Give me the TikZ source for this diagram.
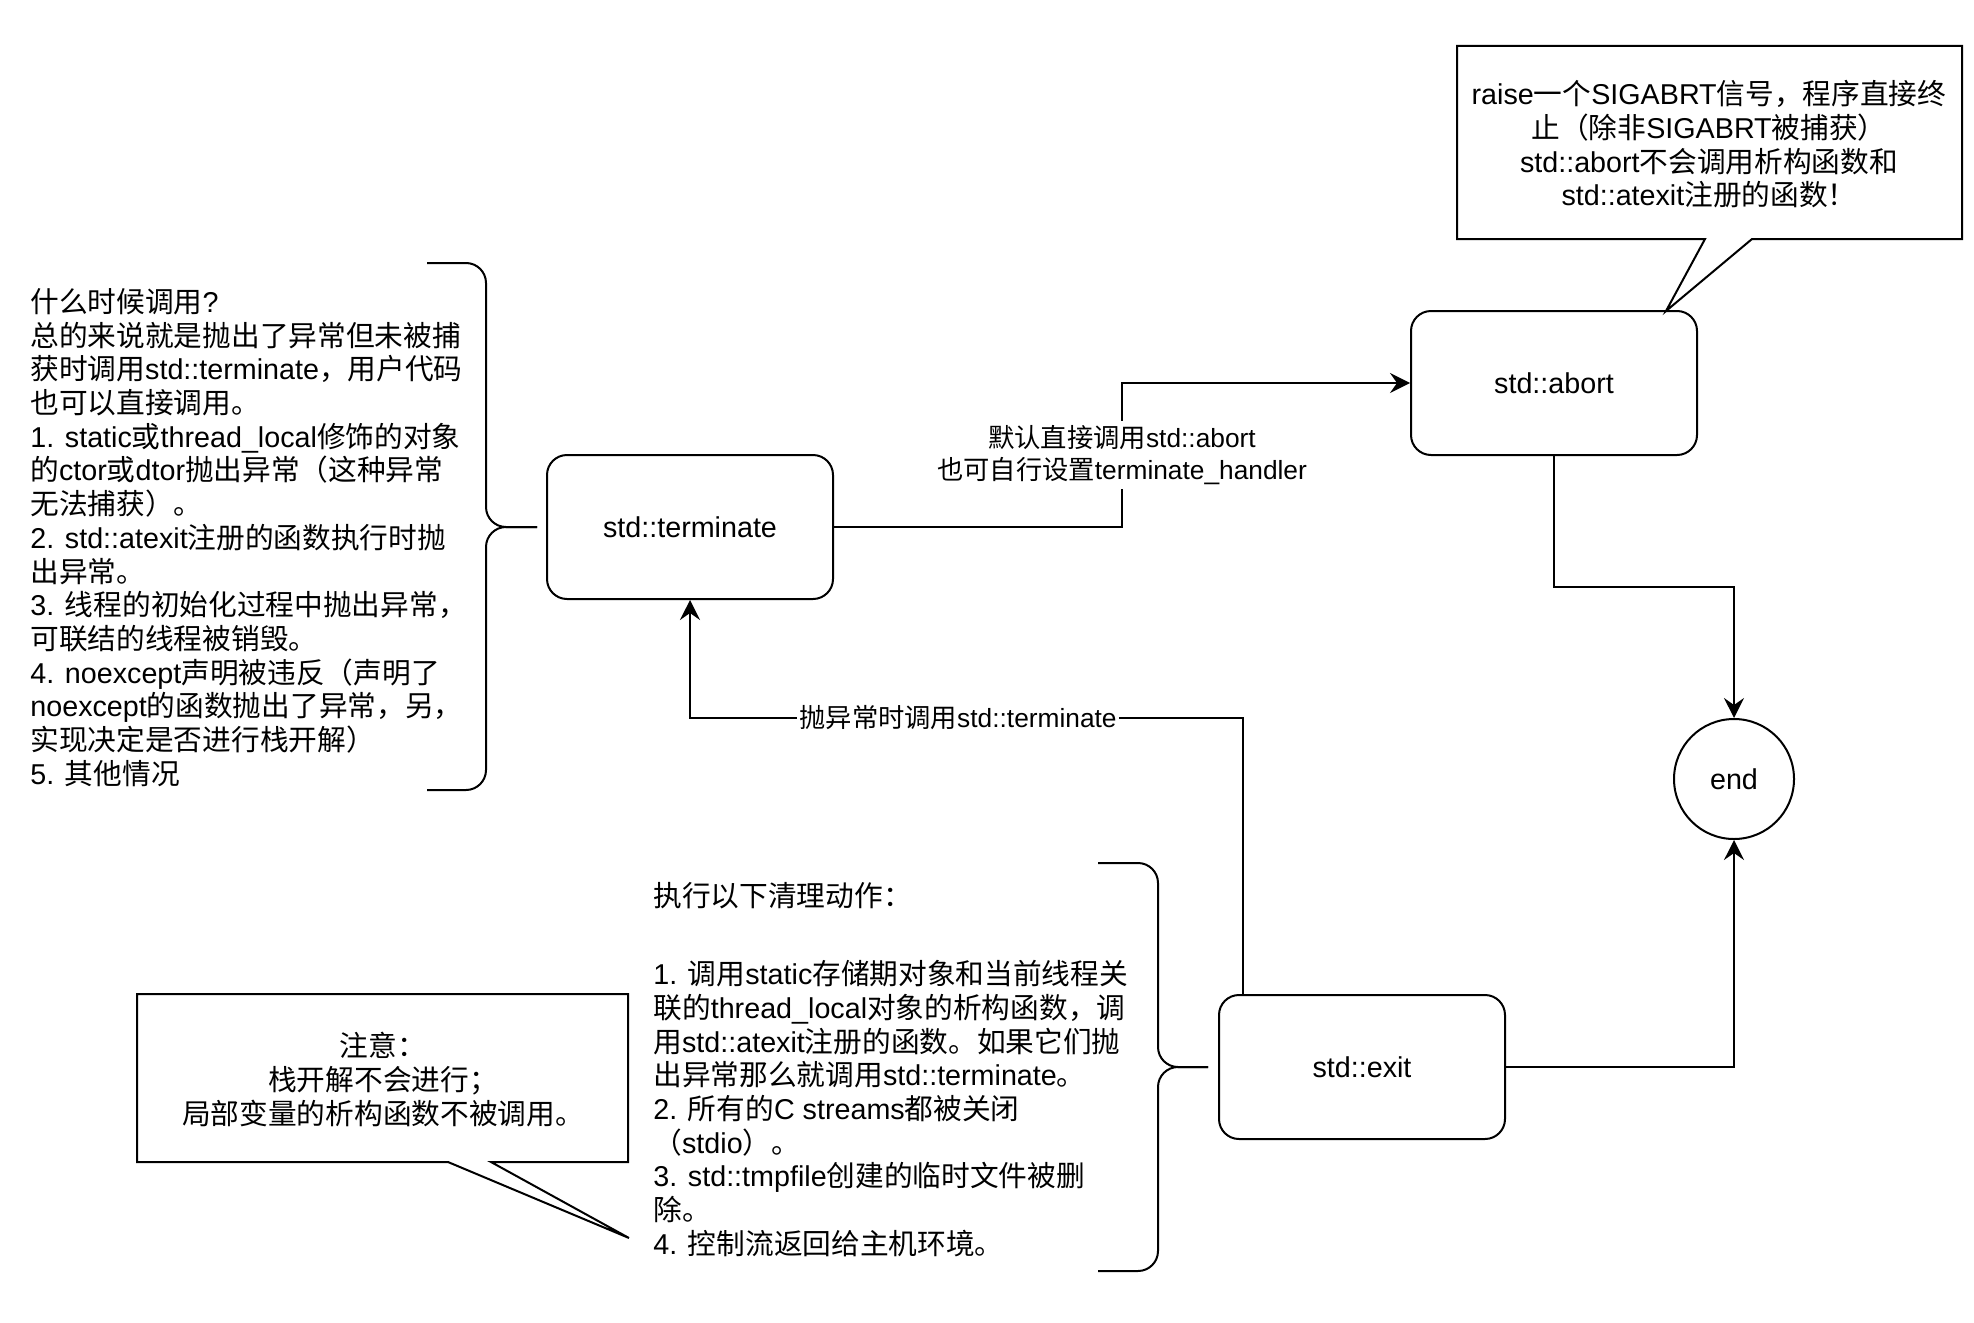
\documentclass[tikz,border=0pt]{standalone}
\usepackage{fontspec}
\setmainfont{Liberation Sans}
\newfontfamily\cjkfont{Noto Sans CJK SC}
\newfontfamily\latfont{Liberation Sans}
\usetikzlibrary{arrows.meta,calc}
\XeTeXinterchartokenstate=1
\newcount\cjkcnt
\newcommand\setcjkrange[2]{\cjkcnt=#1\relax\loop\XeTeXcharclass\cjkcnt=10\relax\ifnum\cjkcnt<#2\relax\advance\cjkcnt by 1\relax\repeat}
\setcjkrange{"3000}{"303F}
\setcjkrange{"4E00}{"9FFF}
\setcjkrange{"FF00}{"FFEF}
\XeTeXinterchartoks 0 10 = {\cjkfont}
\XeTeXinterchartoks 4095 10 = {\cjkfont}
\XeTeXinterchartoks 10 0 = {\latfont}
\XeTeXinterchartoks 10 4095 = {\latfont}
\newcommand\dfont{\fontsize{14.35pt}{16.85pt}\selectfont}
\newcommand\lfont{\fontsize{13.15pt}{16pt}\selectfont}
\begin{document}
\begin{tikzpicture}[x=0.5pt,y=-0.5pt,
  box/.style={draw,line width=1pt,rounded corners=10pt,minimum width=143pt,minimum height=72pt,font=\dfont,inner sep=0pt},
  txt/.style={inner sep=0pt,font=\dfont,align=left},
  ctxt/.style={inner sep=0pt,font=\dfont,align=center},
  lbl/.style={fill=white,inner sep=2pt,font=\lfont,align=center},
  thin/.style={line width=1pt},
  brace/.style={line width=1pt,rounded corners=10pt},
  arr/.style={line width=1pt,-{Stealth[length=10pt,width=10pt,inset=3.5pt]}},
]
\fill[white] (0,0) rectangle (1974,1322);
\useasboundingbox (0,0) rectangle (1974,1322);

% main nodes
\node[box] (term) at (690,527) {std::terminate};
\node[box] (abort) at (1554,383) {std::abort};
\node[box] (exit) at (1362,1067) {std::exit};
\node[draw,circle,line width=1pt,minimum size=60pt,inner sep=0pt,font=\dfont] (endn) at (1734,779) {end};

% connectors
\coordinate (k1) at (1122,455);
\draw[arr] (term.east) -| (k1) |- (abort.west);
\node[lbl] (l1) at (k1) {默认直接调用std::abort\\也可自行设置terminate\_handler};

\coordinate (k2) at (1243,718);
\draw[arr] (exit.north -| k2) -- (k2) -| (term.south);
\node[lbl,inner sep=1pt] (l2) at (958,718) {抛异常时调用std::terminate};

\coordinate (k4) at (1554,587);
\draw[arr] (abort.south) -- (k4) -| (endn.north);
\draw[arr] (exit.east) -| (endn.south);

% left text and brace
\node[txt,anchor=west] (when) at (30,537.5) {什么时候调用?\\
总的来说就是抛出了异常但未被捕\\
获时调用std::terminate，用户代码\\
也可以直接调用。\\
1. static或thread\_local修饰的对象\\
的ctor或dtor抛出异常（这种异常\\
无法捕获）。\\
2. std::atexit注册的函数执行时抛\\
出异常。\\
3. 线程的初始化过程中抛出异常，\\
可联结的线程被销毁。\\
4. noexcept声明被违反（声明了\\
noexcept的函数抛出了异常，另，\\
实现决定是否进行栈开解）\\
5. 其他情况};
\draw[brace] (427,263) -- (486,263) -- (486,527) -- (537,527);
\draw[brace] (427,790) -- (486,790) -- (486,527) -- (537,527);

% exit text and brace
\node[txt,anchor=west] (clean) at (653,1069.5) {执行以下清理动作：\\[22.3pt]
1. 调用static存储期对象和当前线程关\\
联的thread\_local对象的析构函数，调\\
用std::atexit注册的函数。如果它们抛\\
出异常那么就调用std::terminate。\\
2. 所有的C streams都被关闭\\
（stdio）。\\
3. std::tmpfile创建的临时文件被删\\
除。\\
4. 控制流返回给主机环境。};
\draw[brace] (1098,863) -- (1158,863) -- (1158,1067) -- (1208,1067);
\draw[brace] (1098,1271) -- (1158,1271) -- (1158,1067) -- (1208,1067);

% top callout
\draw[thin] (1457,46) -- (1962,46) -- (1962,239) -- (1752,239) -- (1666,311) -- (1705,239) -- (1457,239) -- cycle;
\node[ctxt] (note1) at (1709,144.5) {raise一个SIGABRT信号，程序直接终\\
止（除非SIGABRT被捕获）\\
std::abort不会调用析构函数和\\
std::atexit注册的函数！};

% bottom callout
\draw[thin] (137,994) -- (628,994) -- (628,1162) -- (491,1162) -- (629,1238) -- (448,1162) -- (137,1162) -- cycle;
\node[ctxt] (note2) at (383,1079.5) {注意：\\
栈开解不会进行；\\
局部变量的析构函数不被调用。};
\end{tikzpicture}
\end{document}
